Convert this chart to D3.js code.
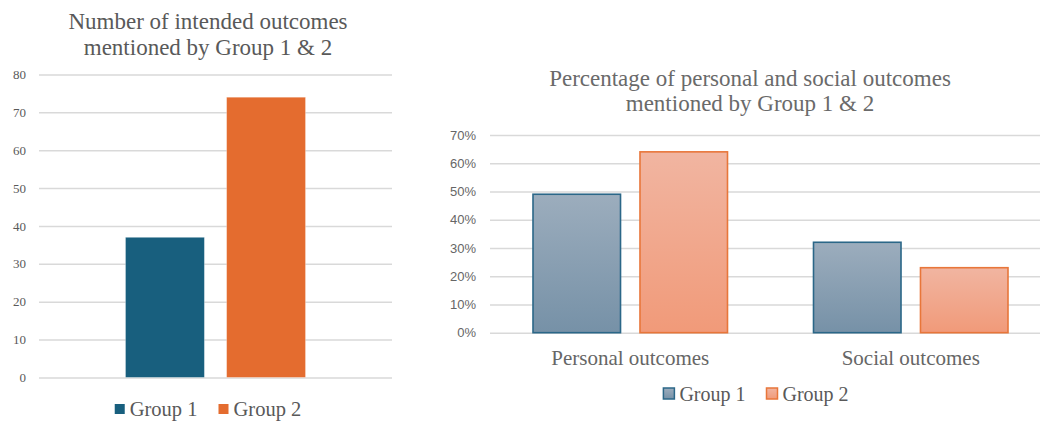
<!DOCTYPE html>
<html>
<head>
<meta charset="utf-8">
<script src="https://cdn.jsdelivr.net/npm/d3@7"></script>
<style>
  html, body { margin: 0; padding: 0; background: #ffffff; }
  svg { display: block; }
</style>
</head>
<body>
<svg id="chart" width="1040" height="422"></svg>
<script>
// ---- Data ----
const groups = ["Group 1", "Group 2"];

// Number of intended outcomes
const countCategories = ["Intended outcomes"];
const countGroup1 = [37];
const countGroup2 = [74];
const countTicks = [0, 10, 20, 30, 40, 50, 60, 70, 80];

// Share of personal and social outcomes
const shareCategories = ["Personal outcomes", "Social outcomes"];
const shareGroup1 = [0.49, 0.32];
const shareGroup2 = [0.64, 0.23];
const shareTicks = [0, 0.1, 0.2, 0.3, 0.4, 0.5, 0.6, 0.7];

// ---- Styling ----
const SERIF = "'Liberation Serif', 'Times New Roman', serif";
const SANS = "'Liberation Sans', Arial, sans-serif";
const GRID = "#d9d9d9";
const TEXT = "#595959";

const svg = d3.select("#chart");
const defs = svg.append("defs");

function addGradient(id, top, bottom) {
  const g = defs.append("linearGradient")
    .attr("id", id).attr("x1", 0).attr("y1", 0).attr("x2", 0).attr("y2", 1);
  g.append("stop").attr("offset", "0%").attr("stop-color", top);
  g.append("stop").attr("offset", "100%").attr("stop-color", bottom);
}
addGradient("grad-g1", "#9cadbd", "#7691a7");
addGradient("grad-g2", "#f1b5a1", "#f19a79");

function rows(cats, a, b) {
  return cats.map((c, i) => ({ category: c, values: [
    { group: groups[0], value: a[i] },
    { group: groups[1], value: b[i] }
  ]}));
}

function drawLegend(g, centerX, baseY, boxSize, fontSize, styleBox) {
  const items = g.selectAll("g.item").data(groups).join("g").attr("class", "item");
  items.append("rect")
    .attr("width", boxSize).attr("height", boxSize)
    .attr("y", baseY - boxSize - 2)
    .each(function (d, i) { styleBox(d3.select(this), i); });
  items.append("text")
    .attr("x", boxSize + 5).attr("y", baseY)
    .attr("font-family", SERIF).attr("font-size", fontSize)
    .attr("fill", TEXT).text(d => d);
  // lay out items side by side and centre the whole legend
  const widths = [];
  items.each(function () { widths.push(this.getBBox().width); });
  const gap = 21;
  const total = d3.sum(widths) + gap * (widths.length - 1);
  let x = centerX - total / 2;
  items.each(function (d, i) {
    d3.select(this).attr("transform", `translate(${x},0)`);
    x += widths[i] + gap;
  });
}

// ================= Left chart: counts =================
(function () {
  const left = 39, right = 392, top = 74.5, bottom = 377.4;
  const data = rows(countCategories, countGroup1, countGroup2);
  const colors = ["#185f7e", "#e46c2f"];

  const y = d3.scaleLinear().domain([0, 80]).range([bottom, top]);
  const x0 = d3.scaleBand().domain(countCategories).range([left, right])
    .paddingInner(0).paddingOuter(0.4806);
  const x1 = d3.scaleBand().domain(groups).range([0, x0.bandwidth()])
    .paddingInner(0.22);

  const g = svg.append("g");

  // title
  g.append("text")
    .attr("x", 208).attr("text-anchor", "middle")
    .attr("font-family", SERIF).attr("font-size", 23).attr("fill", TEXT)
    .selectAll("tspan")
    .data(["Number of intended outcomes", "mentioned by Group 1 & 2"])
    .join("tspan").attr("x", 208).attr("y", (d, i) => 29 + i * 26).text(d => d);

  // axis with gridlines
  const axis = g.append("g").attr("transform", `translate(${left},0)`)
    .call(d3.axisLeft(y).tickValues(countTicks).tickSize(-(right - left))
      .tickPadding(13).tickFormat(d3.format("d")));
  axis.select(".domain").remove();
  axis.selectAll(".tick line").attr("stroke", GRID).attr("stroke-width", 1.5);
  axis.selectAll(".tick text").attr("font-family", SERIF).attr("font-size", 13)
    .attr("fill", TEXT);

  // bars
  g.selectAll("g.cat").data(data).join("g").attr("class", "cat")
    .attr("transform", d => `translate(${x0(d.category)},0)`)
    .selectAll("rect").data(d => d.values).join("rect")
    .attr("x", d => x1(d.group))
    .attr("width", x1.bandwidth())
    .attr("y", d => y(d.value))
    .attr("height", d => y(0) - y(d.value))
    .attr("fill", (d, i) => colors[i])
    .attr("stroke", "#ffffff").attr("stroke-opacity", 0.35).attr("stroke-width", 0.8);

  // legend
  drawLegend(g.append("g"), 208, 416, 10, 20.5, (r, i) => r.attr("fill", colors[i]));
})();

// ================= Right chart: percentages =================
(function () {
  const left = 490, right = 1051, top = 134.9, bottom = 332.7;
  const data = rows(shareCategories, shareGroup1, shareGroup2);
  const fills = ["url(#grad-g1)", "url(#grad-g2)"];
  const strokes = ["#2b6788", "#e8763a"];

  const y = d3.scaleLinear().domain([0, 0.7]).range([bottom, top]);
  const x0 = d3.scaleBand().domain(shareCategories).range([left, right])
    .paddingInner(0.3066).paddingOuter(0.1533);
  const x1 = d3.scaleBand().domain(groups).range([0, x0.bandwidth()])
    .paddingInner(0.182);

  const g = svg.append("g");

  // title
  g.append("text")
    .attr("text-anchor", "middle")
    .attr("font-family", SERIF).attr("font-size", 23).attr("fill", "#6a6a6a")
    .selectAll("tspan")
    .data(["Percentage of personal and social outcomes", "mentioned by Group 1 & 2"])
    .join("tspan").attr("x", 750).attr("y", (d, i) => 86 + i * 25).text(d => d);

  // axis with gridlines
  const axis = g.append("g").attr("transform", `translate(${left},0)`)
    .call(d3.axisLeft(y).tickValues(shareTicks).tickSize(-(right - left))
      .tickPadding(14).tickFormat(d3.format(".0%")));
  axis.select(".domain").remove();
  axis.selectAll(".tick line").attr("stroke", GRID).attr("stroke-width", 1.5);
  axis.selectAll(".tick text").attr("font-family", SANS).attr("font-size", 13)
    .attr("fill", "#666666");

  // bars
  g.selectAll("g.cat").data(data).join("g").attr("class", "cat")
    .attr("transform", d => `translate(${x0(d.category)},0)`)
    .selectAll("rect").data(d => d.values).join("rect")
    .attr("x", d => x1(d.group))
    .attr("width", x1.bandwidth())
    .attr("y", d => y(d.value))
    .attr("height", d => y(0) - y(d.value))
    .attr("fill", (d, i) => fills[i])
    .attr("stroke", (d, i) => strokes[i]).attr("stroke-width", 1.6);

  // category labels
  g.selectAll("text.cat-label").data(shareCategories).join("text")
    .attr("class", "cat-label")
    .attr("x", d => x0(d) + x0.bandwidth() / 2).attr("y", 365)
    .attr("text-anchor", "middle")
    .attr("font-family", SERIF).attr("font-size", 21).attr("fill", "#666666")
    .text(d => d);

  // legend
  drawLegend(g.append("g"), 756, 401, 11, 20, (r, i) =>
    r.attr("fill", fills[i]).attr("stroke", strokes[i]).attr("stroke-width", 1.5));
})();
</script>
</body>
</html>
